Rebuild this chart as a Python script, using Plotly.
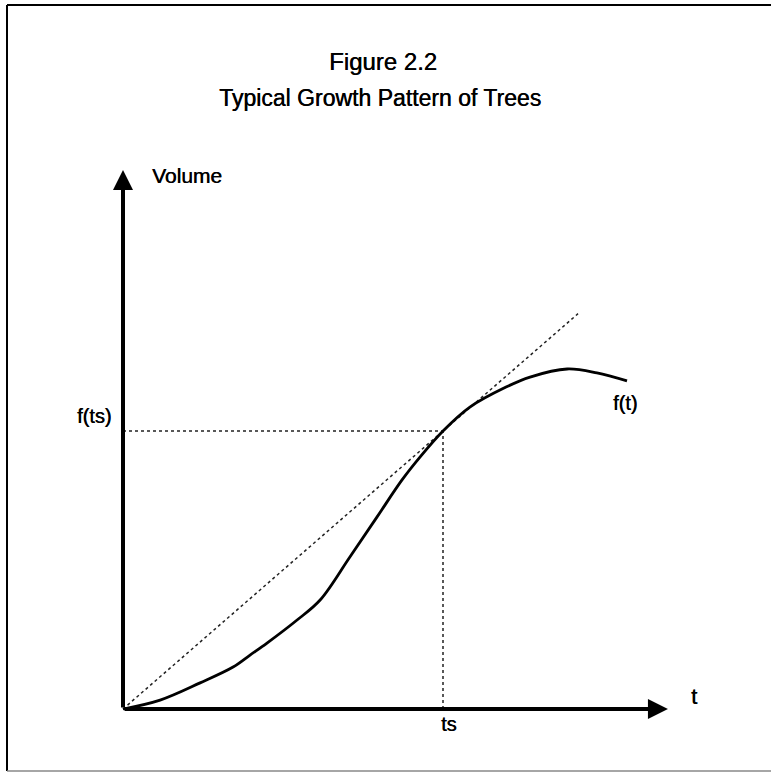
import plotly.graph_objects as go

# ---- data (units: t and volume, chosen so ts = 10 and f(ts) = 10) ----
t_vals = [0, 1.16, 2.41, 3.44, 3.97, 4.5, 5.44, 6.16, 7.09, 7.94, 8.72, 9.28, 10.0,
          10.84, 11.97, 12.72, 13.88, 14.81, 15.75]
f_vals = [0, 0.32, 0.94, 1.51, 1.94, 2.37, 3.20, 3.92, 5.47, 6.91, 8.24, 9.06, 10.0,
          10.86, 11.58, 11.94, 12.23, 12.09, 11.80]
ts = 10.0
f_ts = 10.0
tangent_t = [0, 14.22]
tangent_v = [0, 14.22]
x_axis_end = 17.03
y_axis_end = 19.39

# pixel scale of the axes
PX_X = 32.0
PX_Y = 27.8
ORIGIN_PX = (123, 709)
W, H = 771, 774

x_range = [-ORIGIN_PX[0] / PX_X, (W - ORIGIN_PX[0]) / PX_X]
y_range = [-(H - ORIGIN_PX[1]) / PX_Y, ORIGIN_PX[1] / PX_Y]

FONT = "Liberation Sans, Arial, Helvetica, sans-serif"
HEAVY = "0.4px 0px 0px black"

fig = go.Figure()

# dotted guide lines
fig.add_trace(go.Scatter(x=[0, ts], y=[f_ts, f_ts], mode="lines",
                         line=dict(color="#222", width=1.5, dash="dot"), hoverinfo="skip"))
fig.add_trace(go.Scatter(x=[ts, ts], y=[0, f_ts], mode="lines",
                         line=dict(color="#222", width=1.5, dash="dot"), hoverinfo="skip"))
fig.add_trace(go.Scatter(x=tangent_t, y=tangent_v, mode="lines",
                         line=dict(color="#222", width=1.5, dash="dot"), hoverinfo="skip"))
# growth curve
fig.add_trace(go.Scatter(x=t_vals, y=f_vals, mode="lines", line_shape="spline",
                         line=dict(color="black", width=2.8), hoverinfo="skip"))

# axes with arrows
fig.add_annotation(x=x_axis_end, y=0, ax=0, ay=0, xref="x", yref="y", axref="x", ayref="y",
                   text="", showarrow=True, arrowhead=2, arrowsize=1.0, arrowwidth=4,
                   arrowcolor="black")
fig.add_annotation(x=0, y=y_axis_end, ax=0, ay=0, xref="x", yref="y", axref="x", ayref="y",
                   text="", showarrow=True, arrowhead=2, arrowsize=1.0, arrowwidth=4,
                   arrowcolor="black")

# labels
def label(x, y, text, size=20, xanchor="center", yanchor="middle"):
    fig.add_annotation(x=x, y=y, xref="x", yref="y", text=text, showarrow=False,
                       font=dict(family=FONT, size=size, color="black", shadow=HEAVY),
                       xanchor=xanchor, yanchor=yanchor)

label(0.85, 19.2, "Volume", size=21, xanchor="left")
label(-0.3, 10.55, "f(ts)", xanchor="right")
label(10.2, -0.54, "ts")
label(17.85, 0.45, "t", size=22)
label(15.7, 11.0, "f(t)")

# title
fig.add_annotation(x=0.497, y=1 - 62 / H, xref="paper", yref="paper", text="Figure 2.2",
                   showarrow=False, yanchor="middle",
                   font=dict(family=FONT, size=24, color="black", shadow=HEAVY))
fig.add_annotation(x=0.493, y=1 - 98 / H, xref="paper", yref="paper",
                   text="Typical Growth Pattern of Trees", showarrow=False, yanchor="middle",
                   font=dict(family=FONT, size=23, color="black", shadow=HEAVY))

# page frame (decoration)
fig.add_shape(type="line", xref="paper", yref="paper", x0=7 / W, x1=1, y0=1 - 5 / H, y1=1 - 5 / H,
              line=dict(color="black", width=2))
fig.add_shape(type="line", xref="paper", yref="paper", x0=7 / W, x1=7 / W, y0=1 - 5 / H, y1=1 - 771 / H,
              line=dict(color="black", width=2))
fig.add_shape(type="line", xref="paper", yref="paper", x0=7 / W, x1=1, y0=1 - 771 / H, y1=1 - 771 / H,
              line=dict(color="#888", width=1.5))

fig.update_layout(
    width=W, height=H, margin=dict(l=0, r=0, t=0, b=0),
    paper_bgcolor="white", plot_bgcolor="white", showlegend=False,
    xaxis=dict(range=x_range, visible=False, fixedrange=True),
    yaxis=dict(range=y_range, visible=False, fixedrange=True),
)

fig.write_html("out.html", config={"displayModeBar": False},
               post_script="document.body.style.margin='0';document.body.style.overflow='hidden';")
